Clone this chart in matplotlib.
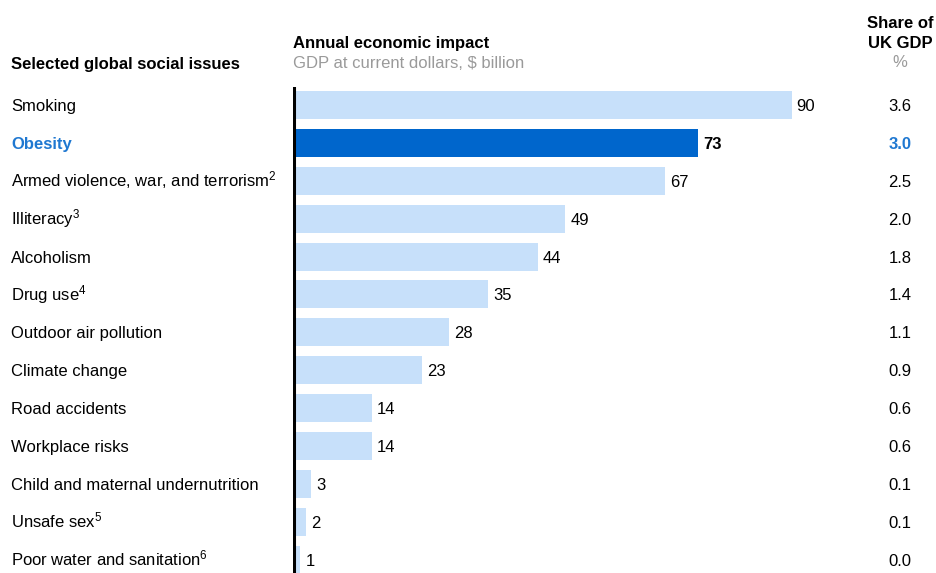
import matplotlib
matplotlib.use("Agg")
import matplotlib.pyplot as plt
import matplotlib.transforms as mtransforms

plt.rcParams['font.family'] = ['Liberation Sans', 'DejaVu Sans']
plt.rcParams['mathtext.fontset'] = 'custom'
plt.rcParams['mathtext.rm'] = 'Liberation Sans'
plt.rcParams['mathtext.default'] = 'regular'

# --------- data ----------------------------------------
issues = ["Smoking", "Obesity", "Armed violence, war, and terrorism$^{2}$",
          "Illiteracy$^{3}$", "Alcoholism", "Drug use$^{4}$",
          "Outdoor air pollution", "Climate change", "Road accidents",
          "Workplace risks", "Child and maternal undernutrition",
          "Unsafe sex$^{5}$", "Poor water and sanitation$^{6}$"]
impact = [90, 73, 67, 49, 44, 35, 28, 23, 14, 14, 3, 2, 1]
share = ["3.6", "3.0", "2.5", "2.0", "1.8", "1.4", "1.1", "0.9",
         "0.6", "0.6", "0.1", "0.1", "0.0"]
highlight = "Obesity"

LIGHT = "#C7E0FA"
DARK = "#0066CC"
BLUE_TXT = "#1F78D1"
GREY = "#9A9A9A"
FS = 12

W, H = 936, 573
fig = plt.figure(figsize=(W / 100, H / 100), dpi=100)
# axis line at x=293 px, from y=87 px down to bottom
ax = fig.add_axes([293 / W, 0, (W - 293) / W, (H - 87) / H])
ax.set_xlim(-0.35, (W - 293) / 5.52 - 0.35)
ax.set_ylim(12.35, -0.475)

y = range(len(issues))
colors = [DARK if i == highlight else LIGHT for i in issues]
ax.barh(y, impact, height=0.74, color=colors, left=0)

for s in ax.spines.values():
    s.set_visible(False)
ax.axvline(-0.15, color="black", lw=2.2)
ax.set_xticks([])
ax.set_yticks([])

# text baseline sits ~6 px below the row centre
shift = mtransforms.ScaledTranslation(0, -6 / 100, fig.dpi_scale_trans)
lab_tr = mtransforms.blended_transform_factory(fig.transFigure, ax.transData) + shift
val_tr = ax.transData + shift
for i, (name, v, sh) in enumerate(zip(issues, impact, share)):
    hl = name == highlight
    wt = "bold" if hl else "normal"
    ax.text(v + 0.9, i, str(v), transform=val_tr, va="baseline", ha="left",
            fontsize=FS, color="black", fontweight=wt)
    ax.text(11 / W, i, name, transform=lab_tr, va="baseline", ha="left",
            fontsize=FS, color=BLUE_TXT if hl else "black", fontweight=wt)
    ax.text(900 / W, i, sh, transform=lab_tr, va="baseline", ha="center",
            fontsize=FS, color=BLUE_TXT if hl else "black", fontweight=wt)

# --------- headers ---------
def ftext(xp, yp, s, **kw):
    fig.text(xp / W, 1 - yp / H, s, fontsize=FS, va="center_baseline", **kw)

ftext(11, 63, "Selected global social issues", fontweight="bold")
ftext(293, 42, "Annual economic impact", fontweight="bold")
ftext(293, 62, "GDP at current dollars, $ billion", color=GREY)
ftext(900, 22, "Share of", fontweight="bold", ha="center")
ftext(900, 42, "UK GDP", fontweight="bold", ha="center")
ftext(900, 61, "%", color=GREY, ha="center")

fig.savefig("out.png", dpi=100)
